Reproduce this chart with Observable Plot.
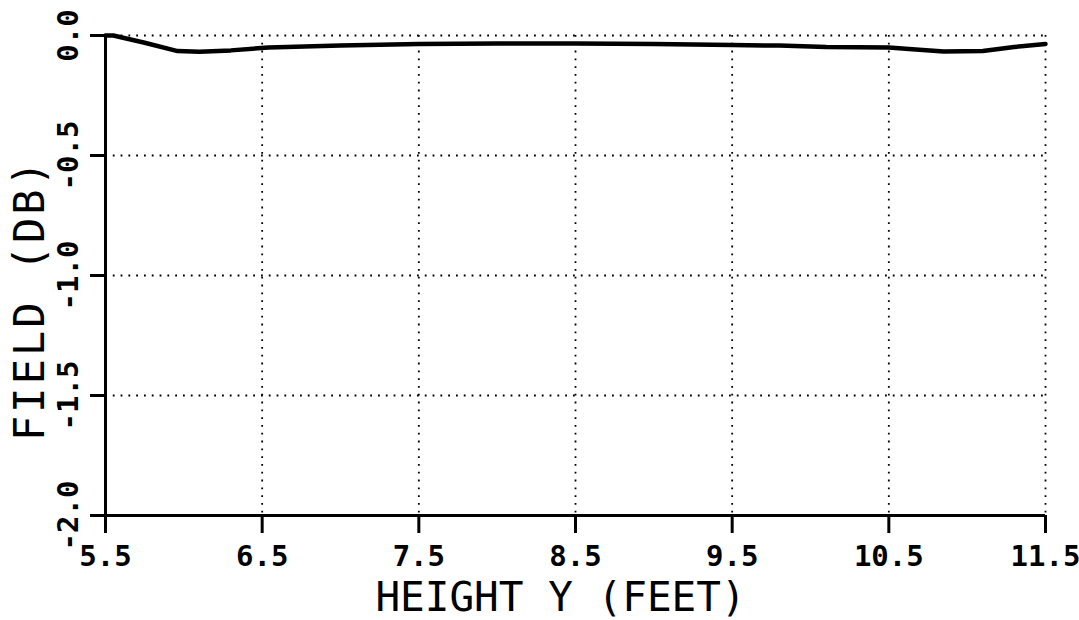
<!DOCTYPE html>
<html>
<head>
<meta charset="utf-8">
<script src="https://cdn.jsdelivr.net/npm/d3@7"></script>
<script src="https://cdn.jsdelivr.net/npm/@observablehq/plot@0.6"></script>
<style>
  html, body { margin: 0; padding: 0; background: white; }
</style>
</head>
<body>
<div id="chart"></div>
<script>
const xTicks = [5.5, 6.5, 7.5, 8.5, 9.5, 10.5, 11.5];
const yTicks = [0.0, -0.5, -1.0, -1.5, -2.0];
const heightFt = [5.5, 5.55, 5.75, 5.96, 6.1, 6.3, 6.54, 7.0, 7.5, 8.0, 8.5, 9.0, 9.5, 9.8, 10.1, 10.5, 10.65, 10.85, 11.1, 11.3, 11.5];
const fieldDb  = [0.0, 0.0, -0.03, -0.065, -0.068, -0.062, -0.05, -0.042, -0.035, -0.033, -0.033, -0.035, -0.04, -0.042, -0.048, -0.05, -0.057, -0.067, -0.065, -0.048, -0.035];
const xTitle = "HEIGHT Y (FEET)";
const yTitle = "FIELD (DB)";

const data = heightFt.map((h, i) => ({h, f: fieldDb[i]}));
const font = "'DejaVu Sans Mono', monospace";

const chart = Plot.plot({
  width: 1079,
  height: 620,
  marginLeft: 105,
  marginRight: 34,
  marginTop: 35,
  marginBottom: 105,
  x: {domain: [5.5, 11.5]},
  y: {domain: [-2, 0]},
  style: {fontFamily: font, background: "white", color: "black"},
  marks: [
    Plot.gridX(xTicks.slice(1), {stroke: "black", strokeOpacity: 1, strokeWidth: 1.8, strokeDasharray: "1.8,6"}),
    Plot.gridY(yTicks.slice(0, 4), {stroke: "black", strokeOpacity: 1, strokeWidth: 1.8, strokeDasharray: "1.8,6"}),
    Plot.axisX(xTicks, {tickSize: 18, tickPadding: 12, tickFormat: d => d.toFixed(1), fontSize: 29, fontWeight: "bold", strokeWidth: 3, label: null, fill: "black"}),
    Plot.axisY(yTicks, {tickSize: 15, tickFormat: () => "", label: null, strokeWidth: 3}),
    Plot.text(yTicks, {y: d => d, text: d => d.toFixed(1), frameAnchor: "left", dx: -28, rotate: -90, lineAnchor: "bottom", textAnchor: "middle", fontSize: 29, fontWeight: "bold", fill: "black"}),
    Plot.ruleX([5.5], {strokeWidth: 3}),
    Plot.ruleY([-2], {strokeWidth: 3}),
    Plot.line(data, {x: "h", y: "f", stroke: "black", strokeWidth: 4.5}),
    Plot.text([xTitle], {text: d => d, frameAnchor: "bottom", dy: 95, dx: -15, lineAnchor: "bottom", fontSize: 41, fill: "black"}),
    Plot.text([yTitle], {text: d => d, frameAnchor: "left", dx: -62, dy: 24, rotate: -90, lineAnchor: "bottom", textAnchor: "middle", fontSize: 42, fill: "black", className: "ytitle"})
  ]
});
d3.select(chart).selectAll(".ytitle text").style("letter-spacing", "3px");
document.getElementById("chart").appendChild(chart);
</script>
</body>
</html>
